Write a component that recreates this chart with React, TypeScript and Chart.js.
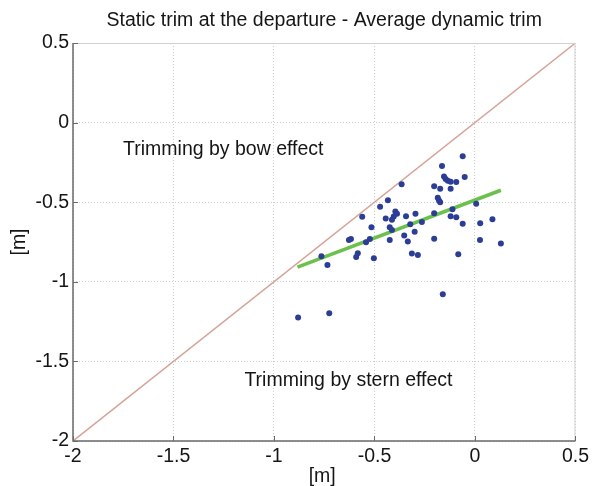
import { useEffect, useRef } from "react";
import { Chart, registerables } from "chart.js";

Chart.register(...registerables);

// Static trim at departure [m] (x) vs average dynamic trim [m] (y)
const staticTrim = [
  -0.061, -0.164, -0.051, -0.154, -0.146, -0.135, -0.121, -0.093, -0.365, -0.203,
  -0.173, -0.121, -0.185, -0.179, -0.173, -0.433, -0.472, 0.006, -0.561, -0.444,
  -0.396, -0.388, -0.404, -0.413, -0.343, -0.296, -0.203, -0.112, -0.121, -0.093,
  -0.515, -0.424, -0.413, -0.264, -0.322, -0.061, 0.026, 0.087, -0.3, -0.352,
  -0.617, -0.627, -0.523, -0.542, -0.424, -0.334, -0.203, 0.025, 0.129, -0.583,
  -0.591, -0.503, -0.314, -0.284, -0.083, -0.764, -0.734, -0.16, -0.88, -0.725,
];
const dynamicTrim = [
  -0.211, -0.272, -0.341, -0.339, -0.355, -0.366, -0.372, -0.373, -0.387, -0.4,
  -0.416, -0.416, -0.472, -0.489, -0.5, -0.487, -0.528, -0.509, -0.592, -0.603,
  -0.559, -0.573, -0.59, -0.611, -0.589, -0.573, -0.569, -0.545, -0.588, -0.595,
  -0.657, -0.657, -0.674, -0.624, -0.639, -0.636, -0.632, -0.607, -0.685, -0.709,
  -0.731, -0.737, -0.731, -0.751, -0.737, -0.747, -0.729, -0.737, -0.76, -0.82,
  -0.845, -0.852, -0.822, -0.832, -0.827, -0.839, -0.895, -1.078, -1.225, -1.197,
];
// Linear fit (green)
const fitX = [-0.883, 0.129];
const fitY = [-0.908, -0.425];
// Reference line y = x
const diagX = [-2, 0.5];
const diagY = [-2, 0.5];

const xTicks = [-2, -1.5, -1, -0.5, 0, 0.5];
const yTicks = [-2, -1.5, -1, -0.5, 0, 0.5];

const titleText = "Static trim at the departure - Average dynamic trim";
const xLabel = "[m]";
const yLabel = "[m]";
const bowLabel = "Trimming by bow effect";
const sternLabel = "Trimming by stern effect";

const FONT = "'Liberation Sans', Arial, sans-serif";
const FS = 19.5;

const decor = {
  id: "decor",
  afterDraw(chart: any) {
    const { ctx, chartArea: a, scales } = chart;
    const xs = scales.x;
    const ys = scales.y;
    ctx.save();
    // box: top & right light, left & bottom dark
    ctx.lineWidth = 1;
    ctx.strokeStyle = "#d2d2d2";
    ctx.beginPath();
    ctx.moveTo(a.left, a.top + 0.5);
    ctx.lineTo(a.right, a.top + 0.5);
    ctx.moveTo(a.right - 0.5, a.top);
    ctx.lineTo(a.right - 0.5, a.bottom);
    ctx.stroke();
    ctx.strokeStyle = "#6a6a6a";
    ctx.lineWidth = 1.5;
    ctx.beginPath();
    ctx.moveTo(a.left, a.top);
    ctx.lineTo(a.left, a.bottom);
    ctx.lineTo(a.right, a.bottom);
    ctx.stroke();
    // inward ticks
    ctx.lineWidth = 1;
    ctx.beginPath();
    xTicks.forEach((v) => {
      const px = Math.round(xs.getPixelForValue(v)) + 0.5;
      ctx.moveTo(px, a.bottom);
      ctx.lineTo(px, a.bottom - 5);
    });
    yTicks.forEach((v) => {
      const py = Math.round(ys.getPixelForValue(v)) + 0.5;
      ctx.moveTo(a.left, py);
      ctx.lineTo(a.left + 5, py);
    });
    ctx.stroke();

    ctx.fillStyle = "#151515";
    ctx.font = `${FS}px ${FONT}`;
    // title
    ctx.textAlign = "center";
    ctx.textBaseline = "middle";
    ctx.fillText(titleText, (a.left + a.right) / 2, 21);
    // x label
    ctx.fillText(xLabel, (a.left + a.right) / 2 - 2, 477);
    // y label
    ctx.save();
    ctx.translate(20, (a.top + a.bottom) / 2);
    ctx.rotate(-Math.PI / 2);
    ctx.fillText(yLabel, 0, 0);
    ctx.restore();
    // annotations
    ctx.textAlign = "left";
    ctx.fillText(bowLabel, xs.getPixelForValue(-1.751), ys.getPixelForValue(-0.171));
    ctx.fillText(sternLabel, xs.getPixelForValue(-1.147), ys.getPixelForValue(-1.619));
    ctx.restore();
  },
};

const fmt = (v: any) => String(Number(v));

export default function App() {
  const ref = useRef<HTMLCanvasElement | null>(null);
  useEffect(() => {
    if (!ref.current) return;
    const tickFont = { family: FONT, size: FS };
    const chart = new Chart(ref.current, {
      type: "scatter",
      data: {
        datasets: [
          {
            label: "trims",
            data: staticTrim.map((x, i) => ({ x, y: dynamicTrim[i] })),
            backgroundColor: "#2c3d96",
            borderColor: "#2c3d96",
            pointRadius: 3,
            pointBorderWidth: 0,
            showLine: false,
          },
          {
            label: "fit",
            data: fitX.map((x, i) => ({ x, y: fitY[i] })),
            borderColor: "#6cc04c",
            borderWidth: 3.5,
            pointRadius: 0,
            showLine: true,
          },
          {
            label: "y=x",
            data: diagX.map((x, i) => ({ x, y: diagY[i] })),
            borderColor: "#d4a497",
            borderWidth: 1.5,
            pointRadius: 0,
            showLine: true,
          },
        ],
      },
      options: {
        animation: false,
        responsive: false,
        maintainAspectRatio: false,
        layout: { padding: { top: 43, right: 15, left: 0, bottom: 0 } },
        plugins: {
          legend: { display: false },
          title: { display: false },
          tooltip: { enabled: false },
        },
        scales: {
          x: {
            type: "linear",
            min: -2,
            max: 0.5,
            afterBuildTicks: (s: any) => {
              s.ticks = xTicks.map((v) => ({ value: v }));
            },
            ticks: { padding: 4, color: "#151515", font: tickFont, maxRotation: 0, autoSkip: false, callback: fmt },
            grid: { color: "#cdcdcd", drawTicks: false, lineWidth: 1 },
            border: { display: false, dash: [1, 2] },
            afterFit: (s: any) => {
              s.height = 45;
            },
          },
          y: {
            type: "linear",
            min: -2,
            max: 0.5,
            afterBuildTicks: (s: any) => {
              s.ticks = yTicks.map((v) => ({ value: v }));
            },
            ticks: { padding: 4, color: "#151515", font: tickFont, autoSkip: false, callback: fmt },
            grid: { color: "#cdcdcd", drawTicks: false, lineWidth: 1 },
            border: { display: false, dash: [1, 2] },
            afterFit: (s: any) => {
              s.width = 73;
            },
          },
        },
      },
      plugins: [decor],
    });
    return () => chart.destroy();
  }, []);
  return (
    <div style={{ position: "fixed", left: 0, top: 0, width: 593, height: 486, background: "#fff" }}>
      <canvas ref={ref} width={593} height={486} style={{ display: "block" }} />
    </div>
  );
}
